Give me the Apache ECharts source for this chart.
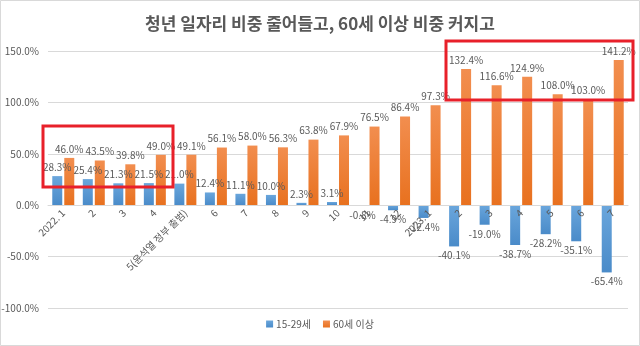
<!DOCTYPE html>
<html><head><meta charset="utf-8">
<script src="https://cdn.jsdelivr.net/npm/echarts@6/dist/echarts.min.js"></script>
<style>html,body{margin:0;padding:0;background:#fff}#c{width:640px;height:346px}</style>
</head><body><div id="c"></div>
<script>
const categories = ['2022. 1','2','3','4','5(윤석열 정부 출범)','6','7','8','9','10','11','12','2023. 1','2','3','4','5','6','7'];
const youth = [28.3,25.4,21.3,21.5,21.0,12.4,11.1,10.0,2.3,3.1,-0.8,-4.9,-12.4,-40.1,-19.0,-38.7,-28.2,-35.1,-65.4];
const senior = [46.0,43.5,39.8,49.0,49.1,56.1,58.0,56.3,63.8,67.9,76.5,86.4,97.3,132.4,116.6,124.9,108.0,103.0,141.2];
const seriesNames = ['15-29세','60세 이상'];
const titleText = '청년 일자리 비중 줄어들고, 60세 이상 비중 커지고';
const yMin = -100, yMax = 150, yStep = 50;

const FONT = '"Noto Sans CJK KR", "Noto Sans", sans-serif';
const TXT = '#595959';
const H = 346, GT = 51, GB = 38;
const plotH = H - GT - GB;
const zeroOffset = -plotH * (0 - yMin) / (yMax - yMin);
const chart = echarts.init(document.getElementById('c'), null, {renderer:'canvas'});
const lbl = (v) => v.toFixed(1) + '%';
chart.setOption({
  backgroundColor:'#fff',
  animation:false,
  textStyle:{fontFamily:FONT},
  title:{text:titleText,left:'center',top:10,textStyle:{fontFamily:FONT,fontSize:17,fontWeight:'bold',color:TXT}},
  legend:{bottom:12,left:'center',itemWidth:7,itemHeight:7,itemGap:12,icon:'rect',
    textStyle:{fontFamily:FONT,fontSize:10,color:TXT,padding:[0,0,0,-2]},data:seriesNames},
  grid:{left:48,right:12,top:GT,bottom:GB,containLabel:false,outerBoundsMode:'none'},
  xAxis:{type:'category',data:categories,position:'bottom',offset:zeroOffset,z:5,
    axisLine:{onZero:false,lineStyle:{color:'#d9d9d9'}},axisTick:{show:false},
    axisLabel:{interval:0,rotate:45,fontSize:10,color:TXT,fontFamily:FONT,margin:6}},
  yAxis:{type:'value',min:yMin,max:yMax,interval:yStep,
    axisLine:{show:false},axisTick:{show:false},
    splitLine:{lineStyle:{color:'#d9d9d9'}},
    axisLabel:{formatter:(v)=>v.toFixed(1)+'%',fontSize:10,color:TXT,fontFamily:FONT,margin:9}},
  series:[
    {name:seriesNames[0],type:'bar',data:youth.map(v=>({value:v,label:{position:v<0?'bottom':'top'}})),barWidth:10,barGap:'20%',
      itemStyle:{color:new echarts.graphic.LinearGradient(0,0,0,1,[{offset:0,color:'#6aa6dc'},{offset:1,color:'#4a8bc9'}])},
      label:{show:true,formatter:(p)=>lbl(p.value),fontSize:10,color:TXT,fontFamily:FONT,distance:4}},
    {name:seriesNames[1],type:'bar',data:senior,barWidth:10,
      itemStyle:{color:new echarts.graphic.LinearGradient(0,0,0,1,[{offset:0,color:'#f28e4f'},{offset:1,color:'#e8711f'}])},
      label:{show:true,position:'top',formatter:(p)=>lbl(p.value),fontSize:10,color:TXT,fontFamily:FONT,distance:4}}
  ],
  color:['#5b9bd5','#ed7d31'],
  graphic:[
    {type:'rect',shape:{x:0.5,y:0.5,width:639,height:345},style:{fill:'none',stroke:'#d9d9d9',lineWidth:1},silent:true},
    {type:'rect',shape:{x:43,y:126,width:130,height:61},style:{fill:'none',stroke:'#e8202a',lineWidth:3},silent:true,z:100},
    {type:'rect',shape:{x:446,y:41,width:187,height:59},style:{fill:'none',stroke:'#e8202a',lineWidth:3},silent:true,z:100}
  ]
});
</script></body></html>
